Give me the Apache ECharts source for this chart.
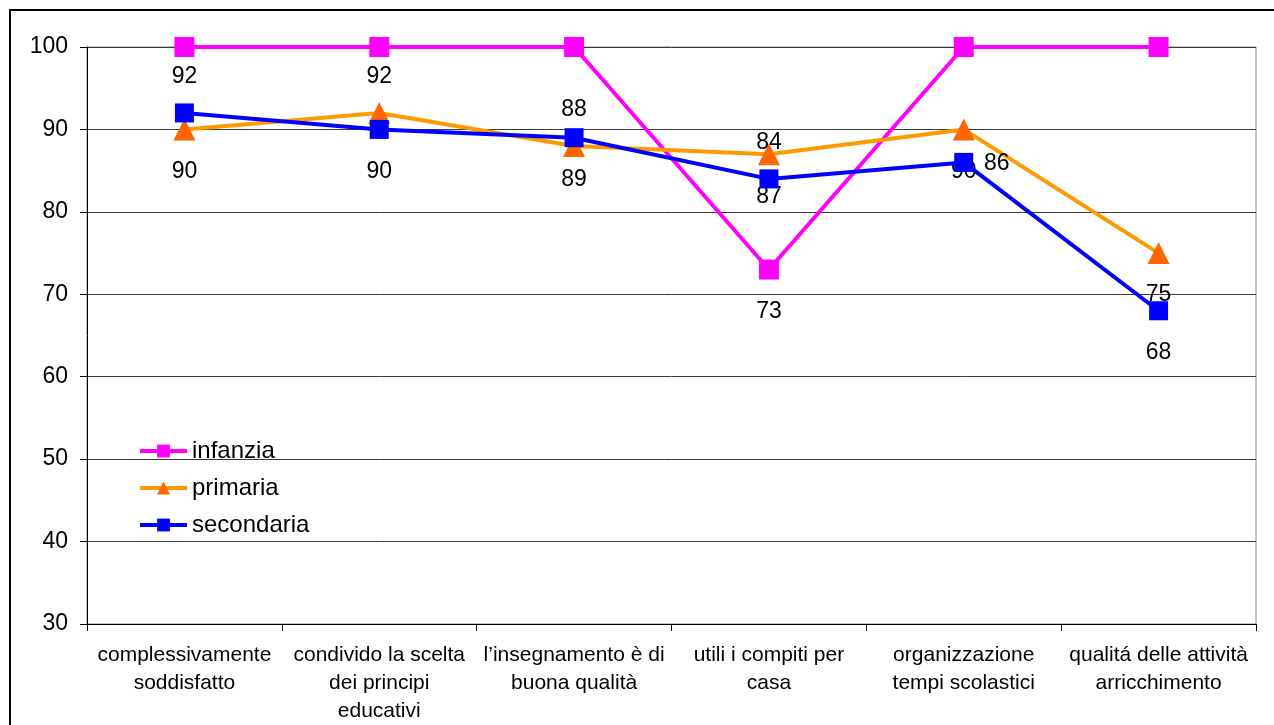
<!DOCTYPE html>
<html>
<head>
<meta charset="utf-8">
<script src="https://cdn.jsdelivr.net/npm/echarts@6/dist/echarts.min.js"></script>
<style>
html,body{margin:0;padding:0;background:#fff;}
#chart{width:1274px;height:725px;}
</style>
</head>
<body>
<div id="chart"></div>
<script>
const categories = [
  'complessivamente\nsoddisfatto',
  'condivido la scelta\ndei principi\neducativi',
  'l’insegnamento è di\nbuona qualità',
  'utili i compiti per\ncasa',
  'organizzazione\ntempi scolastici',
  'qualitá delle attività\narricchimento'
];
const seriesNames = ['infanzia', 'primaria', 'secondaria'];
const infanzia = [100, 100, 100, 73, 100, 100];
const primaria = [90, 92, 88, 87, 90, 75];
const secondaria = [92, 90, 89, 84, 86, 68];
const yMin = 30, yMax = 100, yStep = 10;

// label placement (style only): which side of the point each value label sits
const placeInfanzia = [null, null, null, 'below', null, null];
const placePrimaria = ['below', 'above', 'above', 'below', 'below', 'below'];
const placeSecondaria = ['above', 'below', 'below', 'above', 'right', 'below'];
const offsets = { above: [0, -36], below: [0, 42], right: [33, 1] };

const FONT = '"Liberation Sans", Arial, sans-serif';

function buildData(values, places) {
  return values.map((v, i) => {
    const p = places[i];
    return {
      value: v,
      label: p ? { show: true, position: 'inside', offset: offsets[p] } : { show: false }
    };
  });
}

const labelStyle = { color: '#000', fontSize: 23, fontFamily: FONT, formatter: '{c}' };

const chart = echarts.init(document.getElementById('chart'), null, { renderer: 'canvas' });
chart.setOption({
  backgroundColor: '#fff',
  animation: false,
  graphic: [{
    type: 'rect',
    shape: { x: 10, y: 10, width: 1320, height: 800 },
    style: { fill: 'none', stroke: '#000', lineWidth: 2 },
    silent: true, z: -1
  }],
  grid: {
    left: 87, right: 18, top: 47, bottom: 100,
    show: true, borderColor: '#8a8a8a', borderWidth: 1, backgroundColor: 'transparent'
  },
  legend: {
    orient: 'vertical',
    left: 138, top: 439, padding: 0,
    itemWidth: 47, itemHeight: 16, itemGap: 13,
    data: seriesNames,
    lineStyle: { width: 4 },
    textStyle: { color: '#000', fontSize: 24, fontFamily: FONT }
  },
  xAxis: {
    type: 'category',
    data: categories,
    boundaryGap: true,
    axisLine: { lineStyle: { color: '#000', width: 1 } },
    axisTick: { show: true, length: 7, lineStyle: { color: '#000' }, alignWithLabel: false },
    axisLabel: {
      interval: 0, margin: 17, color: '#000', fontSize: 21, lineHeight: 28, fontFamily: FONT, align: 'center'
    },
    splitLine: { show: false }
  },
  yAxis: {
    type: 'value',
    min: yMin, max: yMax, interval: yStep,
    axisLine: { show: true, lineStyle: { color: '#000', width: 1 } },
    axisTick: { show: true, length: 7, lineStyle: { color: '#000' } },
    axisLabel: { margin: 19, color: '#000', fontSize: 23, fontFamily: FONT },
    splitLine: { show: true, lineStyle: { color: '#3a3a3a', width: 1 } }
  },
  series: [
    {
      name: seriesNames[0], type: 'line', data: buildData(infanzia, placeInfanzia),
      symbol: 'rect', symbolSize: 20,
      lineStyle: { color: '#FF00FF', width: 4 },
      itemStyle: { color: '#FF00FF' },
      label: labelStyle, z: 2
    },
    {
      name: seriesNames[1], type: 'line', data: buildData(primaria, placePrimaria),
      symbol: 'triangle', symbolSize: 22,
      lineStyle: { color: '#FF9900', width: 4 },
      itemStyle: { color: '#FF6600' },
      label: labelStyle, z: 3
    },
    {
      name: seriesNames[2], type: 'line', data: buildData(secondaria, placeSecondaria),
      symbol: 'rect', symbolSize: 19,
      lineStyle: { color: '#0000FF', width: 4 },
      itemStyle: { color: '#0000FF' },
      label: labelStyle, z: 4
    }
  ]
});
</script>
</body>
</html>
